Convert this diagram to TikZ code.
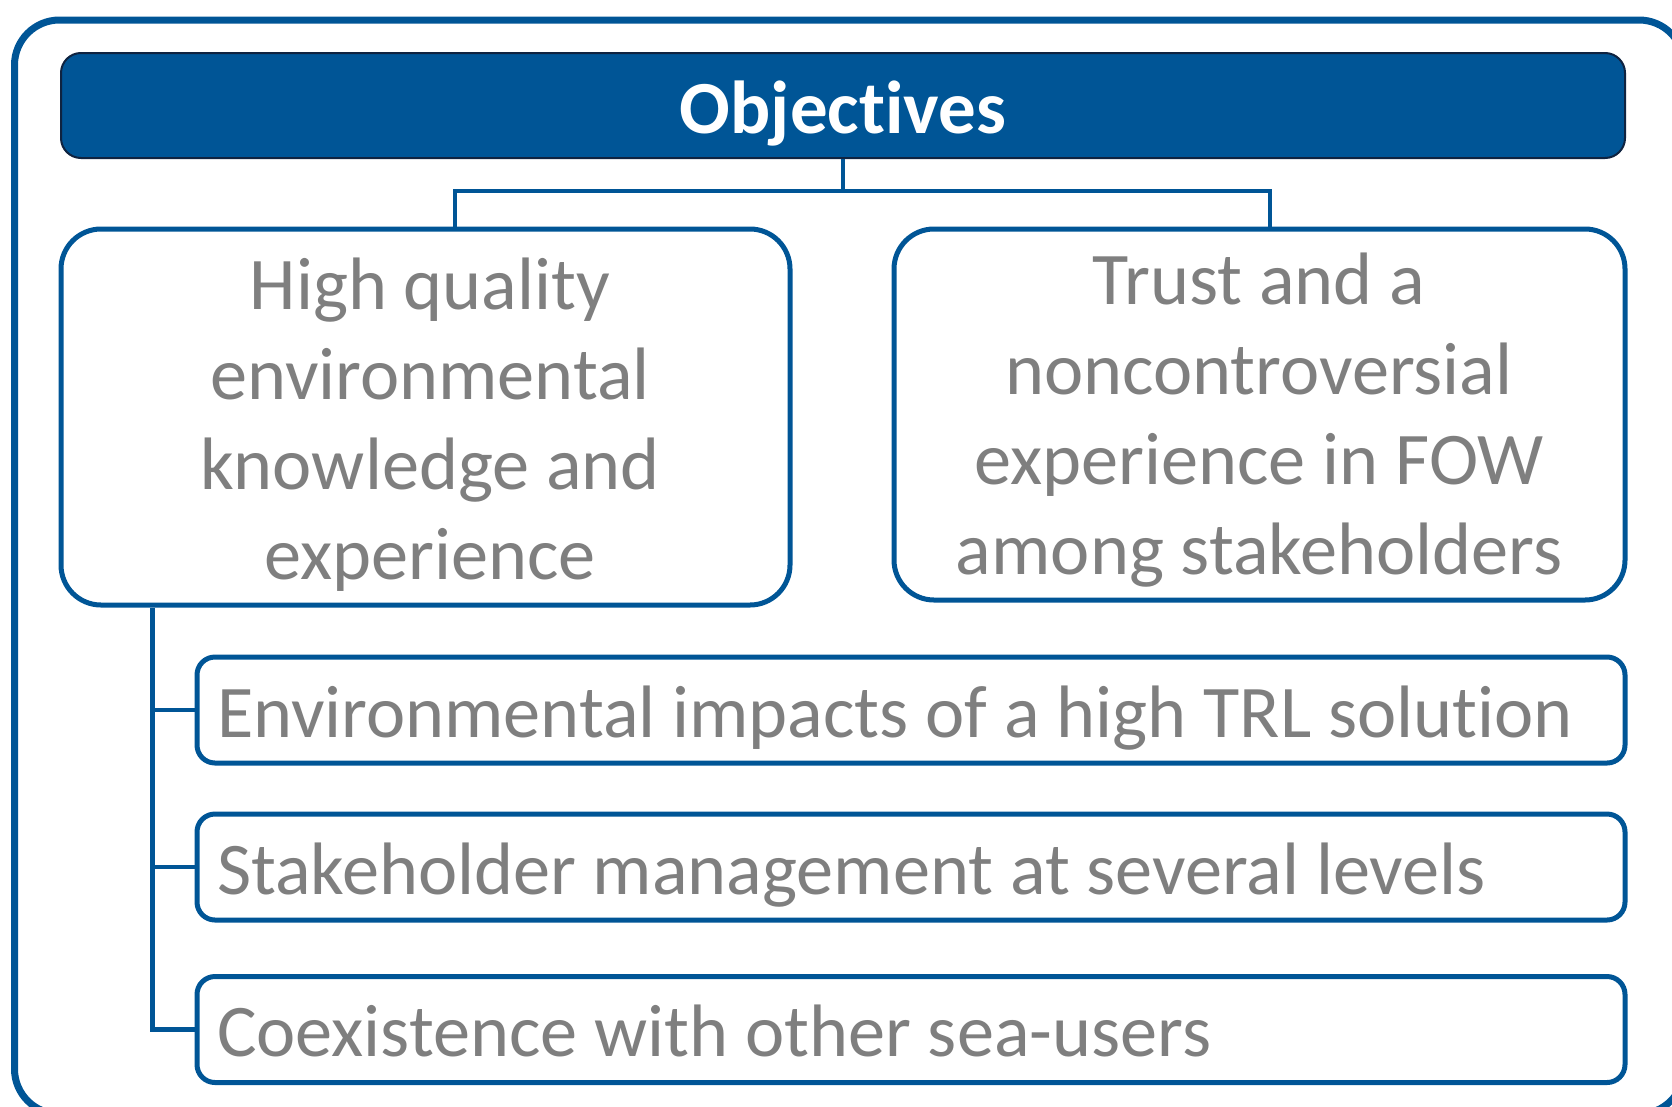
\documentclass[tikz,border=0pt]{standalone}
\usepackage{fontspec}
\setmainfont{Carlito}[Ligatures=NoCommon]
\usetikzlibrary{calc}
\definecolor{ablue}{RGB}{0,85,150}
\definecolor{navy}{RGB}{15,35,64}
\definecolor{tgray}{RGB}{127,127,127}
\newcommand{\bigfont}{\fontsize{74.3}{90}\selectfont}
\newcommand{\rowtext}[1]{\makebox[1388pt][l]{#1}}
\newcommand{\stack}[1]{\begin{tabular}{@{}c@{}}#1\end{tabular}}
\tikzset{
  bigbox/.style={draw=ablue, line width=5pt, rounded corners=40pt, fill=white,
    inner sep=0pt},
  bigtext/.style={text=tgray, inner sep=0pt, font=\bigfont},
  rowbox/.style={draw=ablue, line width=5pt, rounded corners=18pt, fill=white,
    text=tgray, inner xsep=20pt, inner ysep=0pt,
    minimum width=1428pt, minimum height=106pt,
    text height=54.5pt, text depth=0pt, font=\bigfont},
  conn/.style={draw=ablue, line width=4.5pt},
}
\begin{document}
\begin{tikzpicture}[x=1pt,y=-1pt]
\useasboundingbox (0,0) rectangle (1672,1106);
\clip (0,0) rectangle (1672,1106);
\draw[draw=ablue, line width=7pt, rounded corners=45pt] (14.5,20) rectangle (1684,1114);

\node[draw=navy, fill=ablue, line width=2pt, rounded corners=20pt,
  minimum width=1564pt, minimum height=105pt, inner sep=0pt, text=white,
  text height=55pt, text depth=0pt,
  font=\fontsize{75}{90}\selectfont\bfseries] (obj) at (843,105.5) {Objectives};

\node[bigbox, minimum width=729pt, minimum height=376pt] (hq) at (425.5,417) {};
\node[bigtext] (hqt) at (430,426)
  {\stack{High quality\\environmental\\knowledge and\\experience}};

\node[bigbox, minimum width=731pt, minimum height=371pt] (tr) at (1259.5,414.5) {};
\node[bigtext] (trt) at (1259,421)
  {\stack{Trust and a\\noncontroversial\\experience in FOW\\among stakeholders}};

\node[rowbox] (env) at (911,710) {\rowtext{Environmental impacts of a high TRL solution}};
\node[rowbox] (stk) at (911,867) {\rowtext{Stakeholder management at several levels}};
\node[rowbox] (coe) at (911,1029.5) {\rowtext{Coexistence with other sea-users}};

\draw[conn] (obj.south) -- ++(0,32) coordinate (mid) -| ([xshift=29.5pt]hq.north);
\draw[conn] (mid) -| ([xshift=10.5pt]tr.north);

\coordinate (t) at ($(hq.south west)+(94,0)$);
\draw[conn] (t) |- (coe.west);
\draw[conn] (env.west) -- (env.west -| t);
\draw[conn] (stk.west) -- (stk.west -| t);
\end{tikzpicture}
\end{document}
